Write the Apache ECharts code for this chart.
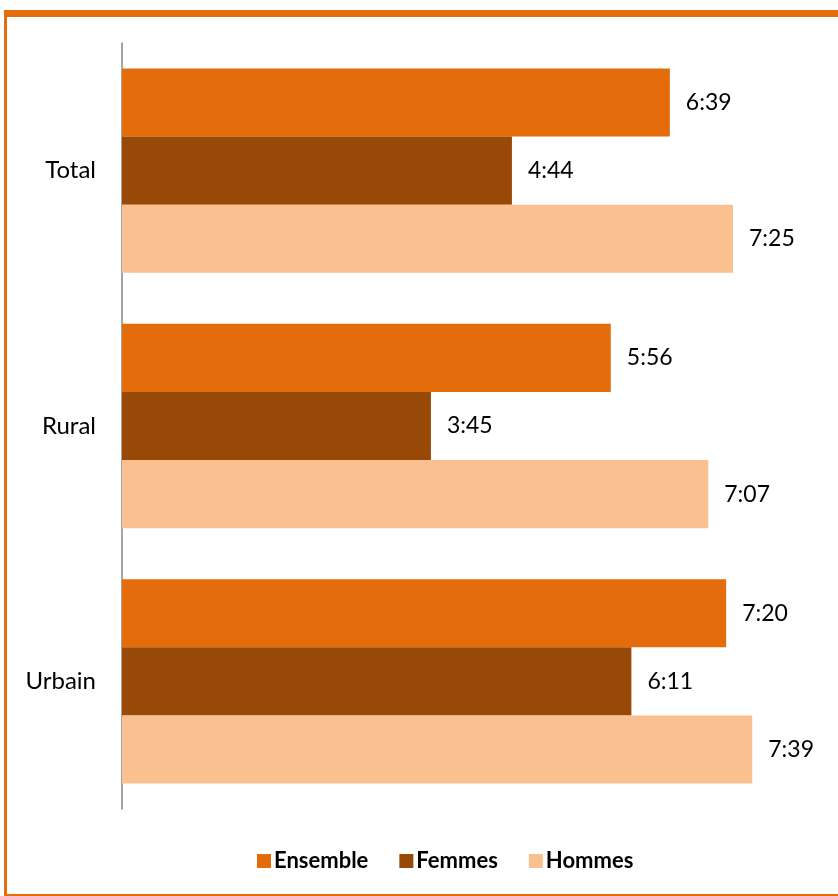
<!DOCTYPE html>
<html><head><meta charset="utf-8">
<script src="https://cdn.jsdelivr.net/npm/echarts@6/dist/echarts.min.js"></script>
<style>html,body{margin:0;padding:0;background:#fff}#c{width:838px;height:896px}</style>
</head><body><div id="c"></div>
<script>
var categories = ["Total", "Rural", "Urbain"];
var seriesNames = ["Ensemble", "Femmes", "Hommes"];
// durations as h:mm text
var ensemble = ["6:39", "5:56", "7:20"];
var femmes   = ["4:44", "3:45", "6:11"];
var hommes   = ["7:25", "7:07", "7:39"];
var colors = ["#E46C0A", "#984807", "#FAC090"];

function toMin(s){ var p = s.split(":"); return (+p[0]) * 60 + (+p[1]); }
function toHM(m){ var h = Math.floor(m / 60), mm = Math.round(m - h * 60); return h + ":" + (mm < 10 ? "0" : "") + mm; }

var FONT = "Lato, 'Open Sans', sans-serif";
var chart = echarts.init(document.getElementById("c"));
var data = [ensemble, femmes, hommes];
chart.setOption({
  animation: false,
  backgroundColor: "#fff",
  grid: { left: 122, right: 24, top: 43, bottom: 87, containLabel: false },
  xAxis: { type: "value", min: 0, max: 504, show: false },
  yAxis: {
    type: "category", data: categories, inverse: true,
    axisLine: { show: true, lineStyle: { color: "#868686", width: 1.5 } },
    axisTick: { show: false },
    axisLabel: { color: "#000", fontSize: 24, fontFamily: FONT, margin: 26 }
  },
  legend: {
    bottom: 19, left: 252, itemWidth: 14, itemHeight: 14, itemGap: 31,
    icon: "rect",
    textStyle: { fontSize: 22, fontWeight: "bold", color: "#000", fontFamily: FONT, padding: [0, 0, 0, -2] },
    data: seriesNames
  },
  series: seriesNames.map(function(n, i){
    return {
      name: n, type: "bar", barGap: "0%", barCategoryGap: "20%",
      itemStyle: { color: colors[i] },
      label: { show: true, position: "right", distance: 16, color: "#000", fontSize: 23, fontFamily: FONT,
               formatter: function(p){ return toHM(p.value); } },
      data: data[i].map(toMin)
    };
  }),
  graphic: [
    { type: "rect", shape: { x: 4, y: 10, width: 834, height: 7 }, style: { fill: "#E46C0A" } },
    { type: "rect", shape: { x: 4, y: 10, width: 3, height: 886 }, style: { fill: "#E46C0A" } },
    { type: "rect", shape: { x: 4, y: 894, width: 834, height: 2 }, style: { fill: "#E46C0A" } }
  ]
});
</script></body></html>
